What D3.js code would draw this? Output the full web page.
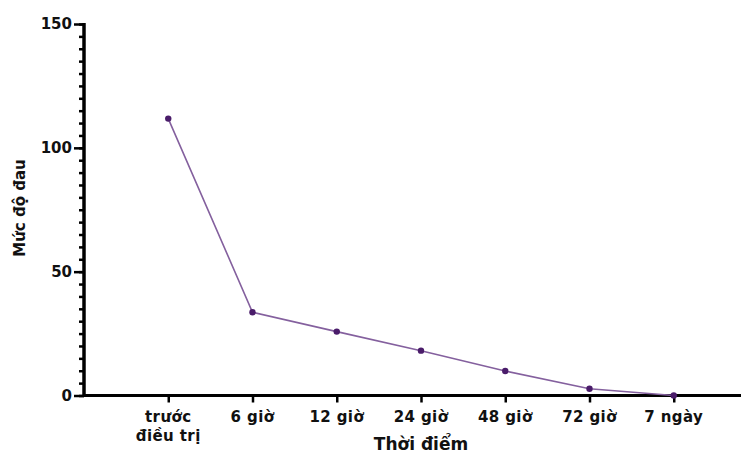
<!DOCTYPE html>
<html><head><meta charset="utf-8">
<script src="https://cdn.jsdelivr.net/npm/d3@7"></script>
<style>body{margin:0;background:#fff}svg{display:block}text{font-family:"DejaVu Sans",sans-serif;font-weight:bold}</style>
</head><body><svg id="c" width="751" height="453"></svg>
<script>
const categories = ["trước\nđiều trị","6 giờ","12 giờ","24 giờ","48 giờ","72 giờ","7 ngày"];
const values = [111.8, 33.6, 25.8, 18.1, 9.9, 2.7, 0];
const yTicks = [0, 50, 100, 150];
const yLabel = "Mức độ đau";
const xLabel = "Thời điểm";

const svg = d3.select("#c");
const x = d3.scalePoint().domain(categories).range([84, 758]).padding(1);
const y = d3.scaleLinear().domain([0,150]).range([395.5, 24]);

// y minor ticks
const gy = svg.append("g").attr("transform","translate(84,0)");
gy.call(d3.axisLeft(y).tickValues(d3.range(0,151,5)).tickSize(5).tickFormat(""))
  .call(g=>g.select(".domain").remove())
  .call(g=>g.selectAll("line").attr("stroke","#000").attr("stroke-width",2.5));
const gy2 = svg.append("g").attr("transform","translate(84,0)");
gy2.call(d3.axisLeft(y).tickValues(yTicks).tickSize(10).tickPadding(2))
  .call(g=>g.select(".domain").remove())
  .call(g=>g.selectAll("line").attr("stroke","#000").attr("stroke-width",2.5))
  .call(g=>g.selectAll("text").attr("font-size",15).attr("fill","#111")
    .attr("font-family","DejaVu Sans").attr("font-weight","bold"));
svg.append("line").attr("x1",84).attr("x2",84).attr("y1",y(150)-1).attr("y2",y(0)+1.5)
  .attr("stroke","#000").attr("stroke-width",3.5);

// x axis
const gx = svg.append("g").attr("transform",`translate(0,${y(0)})`);
gx.call(d3.axisBottom(x).tickSize(7).tickFormat(""))
  .call(g=>g.select(".domain").remove())
  .call(g=>g.selectAll("line").attr("stroke","#000").attr("stroke-width",2.5));
svg.append("line").attr("x1",84).attr("x2",741).attr("y1",y(0)).attr("y2",y(0))
  .attr("stroke","#000").attr("stroke-width",3);
categories.forEach(c=>{
  const lines = c.split("\n");
  const t = svg.append("text").attr("x",x(c)).attr("y",422).attr("text-anchor","middle")
    .attr("font-size",15).attr("letter-spacing",0.4).attr("fill","#111");
  lines.forEach((l,i)=>t.append("tspan").attr("x",x(c)).attr("dy",i?19:0).text(l));
});
svg.append("text").attr("x",421).attr("y",450).attr("text-anchor","middle")
  .attr("font-size",17).attr("fill","#111").text(xLabel);
svg.append("text").attr("transform","translate(25,208) rotate(-90)").attr("text-anchor","middle")
  .attr("font-size",15).attr("fill","#111").text(yLabel);

// line
svg.append("path").datum(values)
  .attr("d", d3.line().x((d,i)=>x(categories[i])).y(d=>y(d)))
  .attr("fill","none").attr("stroke","#84609e").attr("stroke-width",1.6);
svg.selectAll("circle.pt").data(values).join("circle").attr("class","pt")
  .attr("cx",(d,i)=>x(categories[i])).attr("cy",d=>y(d)).attr("r",3.2)
  .attr("fill","#4a1c6a");
</script></body></html>
